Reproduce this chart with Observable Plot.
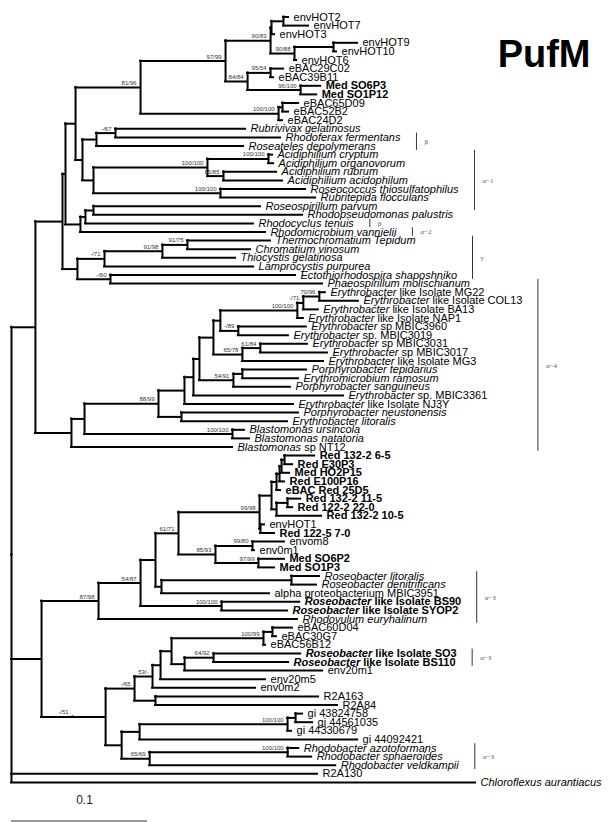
<!DOCTYPE html>
<html>
<head>
<meta charset="utf-8">
<script src="https://cdn.jsdelivr.net/npm/d3@7"></script>
<script src="https://cdn.jsdelivr.net/npm/@observablehq/plot@0.6"></script>
<style>
  html, body { margin: 0; padding: 0; background: #fff; }
  #chart { width: 608px; height: 822px; }
  #measure { position: absolute; left: 0; top: 0; visibility: hidden; }
</style>
</head>
<body>
<div id="chart"></div>
<div id="measure"></div>
<script>
// ---------- DATA ----------
// Leaf labels in tree order (top to bottom)
const leafNames = [
  "envHOT2","envHOT7","envHOT3","envHOT9","envHOT10","envHOT6",
  "eBAC29C02","eBAC39B11","Med SO6P3","Med SO1P12","eBAC65D09","eBAC52B2","eBAC24D2",
  "Rubrivivax gelatinosus","Rhodoferax fermentans","Roseateles depolymerans",
  "Acidiphilium cryptum","Acidiphilium organovorum","Acidiphilium rubrum","Acidiphilium acidophilum",
  "Roseococcus thiosulfatophilus","Rubritepida flocculans","Roseospirillum parvum","Rhodopseudomonas palustris",
  "Rhodocyclus tenuis","Rhodomicrobium vannielii","Thermochromatium Tepidum","Chromatium vinosum",
  "Thiocystis gelatinosa","Lamprocystis purpurea","Ectothiorhodospira shaposhniko","Phaeospirillum molischianum",
  "Erythrobacter like Isolate MG22","Erythrobacter like Isolate COL13","Erythrobacter like Isolate BA13",
  "Erythrobacter like Isolate NAP1","Erythrobacter sp MBIC3960","Erythrobacter sp. MBIC3019",
  "Erythrobacter sp MBIC3031","Erythrobacter sp MBIC3017","Erythrobacter like Isolate MG3",
  "Porphyrobacter tepidarius","Erythromicrobium ramosum","Porphyrobacter sanguineus",
  "Erythrobacter sp. MBIC3361","Erythrobacter like Isolate NJ3Y","Porphyrobacter neustonensis",
  "Erythrobacter litoralis","Blastomonas ursincola","Blastomonas natatoria","Blastomonas sp NT12",
  "Red 132-2 6-5","Red E30P3","Med HO2P15","Red E100P16","eBAC Red 25D5","Red 132-2 11-5",
  "Red 122-2 22-0","Red 132-2 10-5","envHOT1","Red 122-5 7-0","envom8","env0m1","Med SO6P2","Med SO1P3",
  "Roseobacter litoralis","Roseobacter denitrificans","alpha proteobacterium MBIC3951",
  "Roseobacter like Isolate BS90","Roseobacter like Isolate SYOP2","Rhodovulum euryhalinum",
  "eBAC60D04","eBAC30G7","eBAC56B12","Roseobacter like Isolate SO3","Roseobacter like Isolate BS110",
  "env20m1","env20m5","env0m2","R2A163","R2A84","gi 43824758","gi 44561035","gi 44330679","gi 44092421",
  "Rhodobacter azotoformans","Rhodobacter sphaeroides","Rhodobacter veldkampii","R2A130",
  "Chloroflexus aurantiacus"
];
// n = normal, i = italic, g = italic genus + plain rest, B = bold, G = bold with italic genus
const leafStyles = [
  "n","n","n","n","n","n","n","n","B","B","n","n","n",
  "i","i","i","i","i","i","i","i","i","i","i","i","i","i","i","i","i","i","i",
  "g","g","g","g","g","g","g","g","g","i","i","i","g","g","i","i","i","i","g",
  "B","B","B","B","B","B","B","B","n","B","n","n","B","B",
  "i","i","n","G","G","i","n","n","n","G","G",
  "n","n","n","n","n","n","n","n","n","i","i","i","n","i"
];

// Tree topology (Newick, leaf = index into leafNames, internal label = bootstrap,
// branch lengths in substitutions per site x 1000)
const cladeTopHOT = "((((0:3.7,1:18.4):8.8,2:2.2):0.7,((3:17.6,4:2.2):28.7,5:1.5)90/88:17.6)90/83:33.1,((6:9.6,7:2.2)95/54:16.9,(8:14.7,9:11.8)96/100:39.0)84/84:16.2)";
const cladeTop = "(" + cladeTopHOT + "97/99:62.5,((10:11.8,11:4.4):2.9,12:2.9)100/100:101.5)";
const cladeBetaAlpha1 = "(((13:95.6,14:121.3)-/67:14.0,15:108.1):10.3,(((16:2.9,17:3.7)100/100:44.9,(18:39.0,19:43.4)85/85:11.8)100/100:83.8,(20:62.5,21:69.9)100/100:93.4):8.1)";
const cladeRhodo = "(((22:122.8,23:153.7):5.9,24:123.5):3.7,25:136.0)";
const cladeGamma = "((((26:61.0,27:46.3)91/75:18.4,28:53.7)91/98:42.6,29:109.6)-/71:19.9,(30:136.0,31:155.9)-/60:24.3)";
const cladeEryA = "(((((32:4.4,33:28.7)70/96:11.8,34:11.0)-/71:4.4,35:4.4)100/100:56.6,(36:50.0,37:36.8)-/89:13.2):5.1,((38:34.6,39:49.3)61/84:13.2,40:59.6)65/78:21.3)";
const cladeEry = "((((" + cladeEryA + ":10.3,((41:47.1,42:41.2):6.6,43:41.9)54/91:25.0):4.4,44:110.3):6.6,45:80.1):19.1,(46:86.0,47:77.9):16.9)";
const cladeBlasto = "((" + cladeEry + "88/99:54.4,(48:8.8,49:12.5)100/100:108.8):9.6,50:118.4)";
const cladeRed = "((((((51:22.1,52:5.9):2.2,53:5.9):1.5,54:3.7):2.2,55:2.9):3.7,((56:9.6,57:3.7):8.1,58:33.1):3.7):8.8,(59:2.9,60:10.3):0.7)";
const cladeRoseo = "(((" + cladeRed + "99/98:59.6,((61:23.5,62:1.5)99/80:27.2,(63:19.1,64:11.8)97/99:31.6)85/93:27.2)61/71:16.9,((65:20.6,66:18.4):95.6,67:79.4):4.4):11.0,(68:57.4,69:48.5)100/100:59.6)";
const cladeEnv = "(((((((71:14.7,72:2.9):6.6,73:1.5)100/99:67.6,((74:64.0,75:55.1)64/92:21.3,76:101.5):9.6):8.1,77:77.2):5.9,78:75.7)53/-:13.2,(79:119.9,80:133.8):15.4)";
const cladeGi = "((((81:5.1,82:12.5):5.9,83:2.9)100/100:108.8,84:160.3):13.2,((85:8.1,86:17.6)100/100:101.5,87:136.8)65/69:20.6)";
const cladeLow = "((" + cladeRoseo + "54/87:30.9,70:146.3)87/98:41.9,(" + cladeEnv + "-/65:21.3," + cladeGi + ":11.8):24.3)";
const cladeUpper = "((((" + "(" + cladeTop + "81/96:47.8," + cladeBetaAlpha1 + ":5.1):7.4," + cladeRhodo + ":11.0):2.2," + cladeGamma + ":11.0):19.9," + cladeBlasto + ":26.5)";
const newick = "((" + cladeUpper.slice(1, -1) + "):17.6," + cladeLow + "-/51:22.8):22.1,88:225.0,89:341.2);";

// Clade brackets
const cladeLabels = ["β", "α−1", "β", "α−2", "γ", "α−4", "α−3", "α−3", "α−3"];
const cladeFirst  = [14, 16, 24, 25, 26, 31, 65, 74, 85];
const cladeLast   = [15, 22, 24, 25, 30, 50, 70, 75, 87];

const scaleBarValue = 100;   // = 0.1 substitutions per site
const scaleBarLabel = "0.1";
const chartTitle = "PufM";

// ---------- LAYOUT ----------
const W = 608, H = 822;
const xDomain = [0, 350], xRange = [11, 11 + 350 * 1.36];
const nLeaves = leafNames.length;
const yDomain = [0, nLeaves - 1], yRange = [16.5, 16.5 + (nLeaves - 1) * 8.6];
const xs = d3.scaleLinear().domain(xDomain).range(xRange);
const FONT = "'Liberation Sans', Arial, sans-serif";

function parseNewick(s) {
  let i = 0;
  const skip = () => { while (i < s.length && /\s/.test(s[i])) i++; };
  function node() {
    skip();
    const n = {children: []};
    if (s[i] === "(") {
      i++;
      for (;;) {
        n.children.push(node());
        skip();
        if (s[i] === ",") { i++; continue; }
        break;
      }
      i++; // ')'
    }
    skip();
    let lab = "";
    while (i < s.length && !",:();".includes(s[i])) lab += s[i++];
    n.label = lab.trim();
    if (s[i] === ":") {
      i++;
      let num = "";
      while (i < s.length && !",();".includes(s[i])) num += s[i++];
      n.length = +num;
    } else n.length = 0;
    return n;
  }
  return node();
}

const root = parseNewick(newick);
let counter = 0;
(function place(n, depth) {
  n.depth = depth;
  if (!n.children.length) { n.row = counter++; n.id = +n.label; }
  else {
    n.children.forEach(c => place(c, depth + c.length));
    n.row = (n.children[0].row + n.children[n.children.length - 1].row) / 2;
  }
})(root, 0);

const horiz = [], vert = [], leaves = [], boots = [];
(function walk(n, parent) {
  if (parent) horiz.push({x1: parent.depth, x2: n.depth, y: n.row});
  if (n.children.length) {
    vert.push({x: n.depth, y1: n.children[0].row, y2: n.children[n.children.length - 1].row});
    if (parent && n.label) boots.push({x: n.depth, y: n.row, text: n.label});
    n.children.forEach(c => walk(c, n));
  } else {
    leaves.push({x: n.depth, y: n.row, name: leafNames[n.id], style: leafStyles[n.id]});
  }
})(root, null);

const barRow = nLeaves + 3.5;
const scaleBar = [{x1: 0, x2: scaleBarValue, y: barRow, label: scaleBarLabel, xm: scaleBarValue / 2, ly: nLeaves + 1.05}];
const styleByName = new Map(leaves.map(d => [d.name, d.style]));
const NS = "http://www.w3.org/2000/svg";

function build(brackets) {
  const svg = Plot.plot({
    width: W,
    height: H,
    margin: 0,
    x: {domain: xDomain, range: xRange, axis: null},
    y: {domain: yDomain, range: yRange, axis: null},
    style: {fontFamily: FONT, background: "#fff", color: "#000"},
    marks: [
      Plot.ruleY(horiz, {x1: "x1", x2: "x2", y: "y", stroke: "#000", strokeWidth: 2, strokeLinecap: "square"}),
      Plot.ruleX(vert, {x: "x", y1: "y1", y2: "y2", stroke: "#000", strokeWidth: 2, strokeLinecap: "square"}),
      Plot.text(leaves, {x: "x", y: "y", text: "name", textAnchor: "start", dx: 5, fontSize: 11, fill: "#000"}),
      Plot.text(boots, {x: "x", y: "y", text: "text", textAnchor: "end", dx: -4, dy: -2.5, lineAnchor: "bottom", fontSize: 6, fill: "#333"}),
      Plot.ruleX(brackets, {x: "x", y1: "y1", y2: "y2", stroke: "#333", strokeWidth: 1}),
      Plot.text(brackets, {x: "x", y: "ym", text: "label", textAnchor: "start", dx: 8, fontSize: 7, fill: "#555", fontFamily: "'Liberation Serif', serif"}),
      Plot.ruleY(scaleBar, {x1: "x1", x2: "x2", y: "y", stroke: "#777", strokeWidth: 1.5}),
      Plot.text(scaleBar, {x: "xm", y: "ly", text: "label", dx: 5, fontSize: 12, fill: "#222"}),
      Plot.text([chartTitle], {frameAnchor: "top-right", dx: -18, dy: 40, lineAnchor: "top", textAnchor: "end", fontSize: 38, fontWeight: "bold", fill: "#000"})
    ]
  });
  // italic / bold styling of leaf labels
  svg.querySelectorAll("text").forEach(t => {
    const name = t.textContent;
    if (!styleByName.has(name)) return;
    const code = styleByName.get(name);
    t.style.whiteSpace = "pre";
    t.setAttribute("data-leaf", name);
    if (code === "i") t.setAttribute("font-style", "italic");
    else if (code === "B") t.setAttribute("font-weight", "bold");
    else if (code === "g" || code === "G") {
      const k = name.indexOf(" ");
      t.textContent = "";
      const a = document.createElementNS(NS, "tspan");
      a.textContent = name.slice(0, k + 1);
      a.setAttribute("font-style", "italic");
      const b = document.createElementNS(NS, "tspan");
      b.textContent = name.slice(k + 1);
      if (code === "G") t.setAttribute("font-weight", "bold");
      t.appendChild(a); t.appendChild(b);
    }
  });
  return svg;
}

// pass 1: measure rendered label extents (in page pixels)
const probe = build([]);
document.getElementById("measure").appendChild(probe);
const probeLeft = probe.getBoundingClientRect().left;
const rightEdge = new Map();
probe.querySelectorAll("text[data-leaf]").forEach(t => {
  rightEdge.set(t.getAttribute("data-leaf"), t.getBoundingClientRect().right - probeLeft);
});
probe.remove();

const leafByRow = new Map(leaves.map(d => [d.y, d]));
const brackets = cladeLabels.map((label, k) => {
  let right = 0;
  for (let r = cladeFirst[k]; r <= cladeLast[k]; r++) {
    const d = leafByRow.get(r);
    right = Math.max(right, rightEdge.get(d.name) ?? xs(d.x));
  }
  return {
    label,
    x: xs.invert(right + 15),
    y1: cladeFirst[k] - 0.5,
    y2: cladeLast[k] + 0.5,
    ym: (cladeFirst[k] + cladeLast[k]) / 2
  };
});

document.getElementById("chart").appendChild(build(brackets));
</script>
</body>
</html>
